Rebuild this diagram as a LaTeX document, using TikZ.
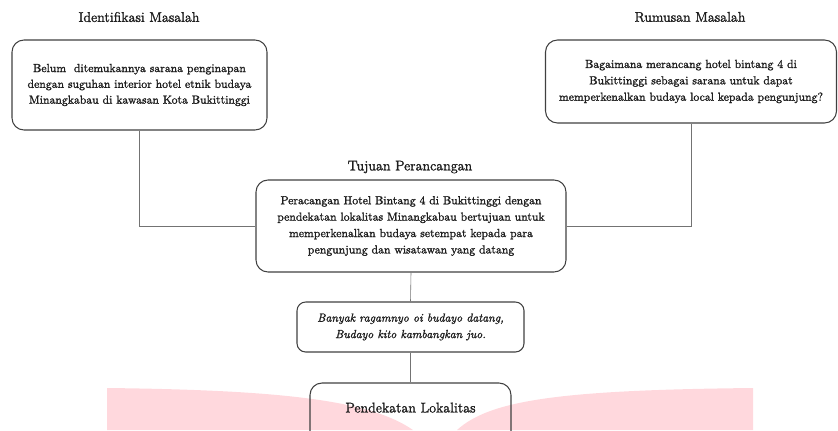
\documentclass[tikz,border=0pt]{standalone}
\usepackage{fontspec}
\setmainfont{Latin Modern Roman}[FakeBold=1.6]
\usepackage{tikz}
\usetikzlibrary{positioning}
\definecolor{bookpink}{RGB}{255,216,221}
\definecolor{inkgray}{RGB}{30,30,30}

\begin{document}
\begin{tikzpicture}[
  x=0.3mm, y=-0.3mm, font=\normalsize, text=inkgray,
  box/.style={draw=black!75,line width=0.9pt,rounded corners=3.6mm,align=center,inner sep=2pt},
  head/.style={font=\large,inner sep=1pt},
  link/.style={draw=black!55,line width=0.5pt},
]
\clip (0,0) rectangle (838,430);

% pink background (open book)
\fill[bookpink] (107,430) -- (107,388) .. controls (280,390) and (370,400) .. (413,430) -- cycle;
\fill[bookpink] (457,430) .. controls (490,400) and (560,390) .. (753,388) -- (753,430) -- cycle;

% ---- problem boxes ----
\node[head] (identT) at (139,17) {Identifikasi Masalah};
\node[box,minimum width=255*0.3mm,minimum height=90*0.3mm] (ident) at (139.5,85)
  {Belum\ \ ditemukannya sarana penginapan\\[1.5pt]dengan suguhan interior hotel etnik budaya\\[1.5pt]Minangkabau di kawasan Kota Bukittinggi};

\node[head] (rumusT) at (690,17) {Rumusan Masalah};
\node[box,minimum width=291*0.3mm,minimum height=83*0.3mm] (rumus) at (691,81.5)
  {Bagaimana merancang hotel bintang 4 di\\[2pt]Bukittinggi sebagai sarana untuk dapat\\[2pt]memperkenalkan budaya local kepada pengunjung?};

% ---- design goal ----
\node[head] (tujuanT) at (410,167) {Tujuan Perancangan};
\node[box,minimum width=310*0.3mm,minimum height=92*0.3mm] (tujuan) at (411,226)
  {Peracangan Hotel Bintang 4 di Bukittinggi dengan\\[2pt]pendekatan lokalitas Minangkabau bertujuan untuk\\[2pt]memperkenalkan budaya setempat kepada para\\[2pt]pengunjung dan wisatawan yang datang};

\node[box,rounded corners=2.6mm,font=\normalsize\itshape,minimum width=227*0.3mm,minimum height=50*0.3mm] (pantun) at (410.5,327)
  {Banyak ragamnyo oi budayo datang,\\[2pt]Budayo kito kambangkan juo.};

\node[box,font=\large,minimum width=201*0.3mm,minimum height=70*0.3mm,text height=2ex,text depth=4.2ex] (lokal) at (410.5,418)
  {Pendekatan Lokalitas};

% connectors
\draw[link] (ident.south) |- (tujuan.west);
\draw[link] (rumus.south) |- (tujuan.east);
\draw[link] (tujuan.south) -- (pantun.north);
\draw[link] (pantun.south) -- (lokal.north);
\end{tikzpicture}
\end{document}
